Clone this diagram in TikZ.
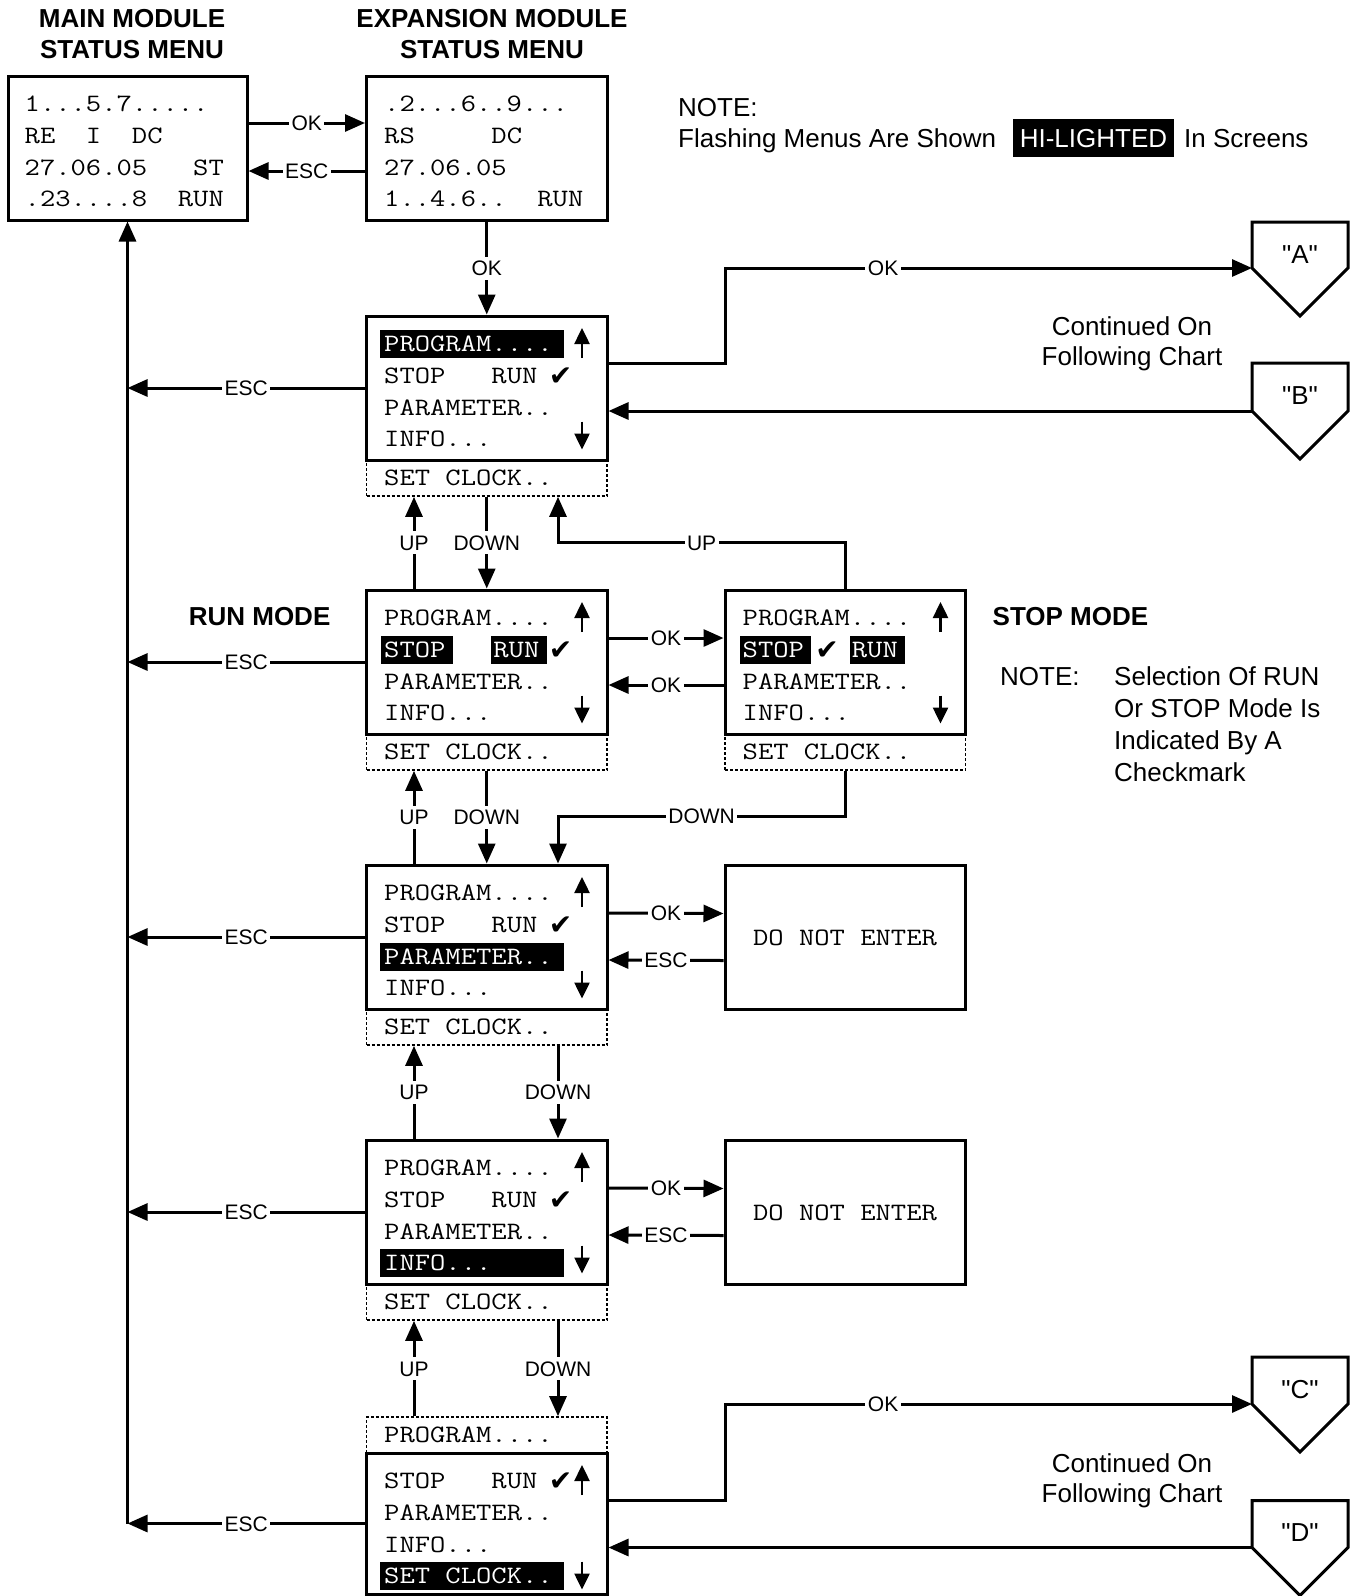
\documentclass[tikz,border=0pt]{standalone}
\usepackage{fontspec}
\setmainfont{Liberation Sans}
\newfontfamily\qfont{Liberation Sans}
\newfontfamily\symfont{DejaVu Sans}
\usepackage{graphicx}
\usetikzlibrary{arrows.meta,calc}
\newcommand\lcd[1]{\scalebox{1.19}[1]{\ttfamily\fontsize{25}{25}\selectfont #1}}
\newcommand\plainrow[4]{\node[lt] (#1) at (#2+17.5,#3) {\lcd{#4}};}
\newcommand\hlrow[4]{\fill (#2+13.5,#3-14) rectangle (#2+197.5,#3+14); \node[ht] (#1) at (#2+17.5,#3) {\lcd{#4}};}
\newcommand\chkmark[3]{\node[chk] (#1) at (#2,#3+1) {✔};}
\newcommand\scrollup[2]{\draw[sarr] (#1,#2+15) -- (#1,#2-15);}
\newcommand\scrolldn[2]{\draw[sarr] (#1,#2-14) -- (#1,#2+14);}
\newcommand\lcdmenu[4]{%
  \node[dashbox] (#1d) at (#2+120.25,#3+162) {};
  \node[solidbox] (#1) at (#2+120.25,#3+72) {};
  \ifnum#4=1 \hlrow{#1a}{#2}{#3+27.5}{PROGRAM....}\else \plainrow{#1a}{#2}{#3+27.5}{PROGRAM....}\fi
  \ifnum#4=2
    \fill (#2+14.5,#3+45.5) rectangle (#2+86,#3+73.5);
    \fill (#2+124.5,#3+45.5) rectangle (#2+180,#3+73.5);
    \node[ht] (#1b) at (#2+17.5,#3+59.5) {\lcd{STOP}};
    \node[ht] (#1c) at (#2+126.7,#3+59.5) {\lcd{RUN}};
    \chkmark{#1k}{#2+194}{#3+59.5}
  \else\ifnum#4=5
    \fill (#2+14.5,#3+45.5) rectangle (#2+86,#3+73.5);
    \fill (#2+124.5,#3+45.5) rectangle (#2+180,#3+73.5);
    \node[ht] (#1b) at (#2+17.5,#3+59.5) {\lcd{STOP}};
    \node[ht] (#1c) at (#2+126.7,#3+59.5) {\lcd{RUN}};
    \chkmark{#1k}{#2+102}{#3+59.5}
  \else
    \plainrow{#1b}{#2}{#3+59.5}{STOP~~~RUN}
    \chkmark{#1k}{#2+194}{#3+59.5}
  \fi\fi
  \ifnum#4=3 \hlrow{#1e}{#2}{#3+91.5}{PARAMETER..}\else \plainrow{#1e}{#2}{#3+91.5}{PARAMETER..}\fi
  \ifnum#4=4 \hlrow{#1f}{#2}{#3+123}{INFO...}\else \plainrow{#1f}{#2}{#3+123}{INFO...}\fi
  \plainrow{#1g}{#2}{#3+162}{SET~CLOCK..}
  \scrollup{#2+215.5}{#3+27}
  \scrolldn{#2+215.5}{#3+119.5}
}
\newcommand\pent[4]{%
  \draw[line width=3pt, line join=miter] (1252,#2) -- (1348,#2) -- (1348,#2+#4) -- (1300,#2+#4+48) -- (1252,#2+#4) -- cycle;
  \node[bt] (#1) at (1300,#2+32) {\qfont "#3"};
  \coordinate (#1w) at (1252,#2+#4);
}
\begin{document}
\begin{tikzpicture}[x=1pt,y=-1pt,
  solidbox/.style={draw, line width=3pt, minimum width=240.5pt, minimum height=144pt, inner sep=0pt},
  dashbox/.style={draw, line width=1.7pt, dash pattern=on 3pt off 2pt, minimum width=240.5pt, minimum height=36pt, inner sep=0pt},
  lt/.style={anchor=west, inner sep=0pt, text height=15.3pt, text depth=0pt},
  ht/.style={lt, text=white},
  lbl/.style={font=\fontsize{21}{21}\selectfont, fill=white, inner xsep=2.5pt, inner ysep=4pt, text height=15pt, text depth=0pt},
  arr/.style={line width=3pt, -{Triangle[length=20pt,width=17pt]}},
  sarr/.style={line width=2.5pt, -{Triangle[length=16pt,width=15pt]}},
  bt/.style={font=\fontsize{26}{26}\selectfont, inner sep=0pt, text height=18.7pt, text depth=0pt},
  btw/.style={bt, anchor=west},
  bb/.style={font=\bfseries\fontsize{26}{26}\selectfont, inner sep=0pt, text height=18.7pt, text depth=0pt},
  chk/.style={font=\symfont\fontsize{28}{28}\selectfont, inner sep=0pt},
]
\useasboundingbox (0,0) rectangle (1355,1596);

% titles
\node[bb] (t1a) at (132,18.3) {MAIN MODULE};
\node[bb] (t1b) at (132,49) {STATUS MENU};
\node[bb] (t2a) at (492,18.3) {EXPANSION MODULE};
\node[bb] (t2b) at (492,49) {STATUS MENU};

% status boxes
\node[solidbox, minimum width=239pt] (mm) at (127.5,148) {};
\node[lt] (mm1) at (24.5,103.5) {\lcd{1...5.7.....}};
\node[lt] (mm2) at (24.5,135.5) {\lcd{RE~~I~~DC}};
\node[lt] (mm3) at (24.5,167.5) {\lcd{27.06.05~~~ST}};
\node[lt] (mm4) at (24.5,199) {\lcd{.23....8~~RUN}};
\node[solidbox] (ex) at (486.75,148) {};
\node[lt] (ex1) at (384,103.5) {\lcd{.2...6..9...}};
\node[lt] (ex2) at (384,135.5) {\lcd{RS~~~~~DC}};
\node[lt] (ex3) at (384,167.5) {\lcd{27.06.05}};
\node[lt] (ex4) at (384,199) {\lcd{1..4.6..~~RUN}};

% note
\node[btw] (nt1) at (678,107) {NOTE:};
\node[btw] (nt2) at (678,138.5) {Flashing Menus Are Shown};
\node[bt, fill=black, text=white, minimum width=161pt, minimum height=38pt] (nt3) at (1093.5,138) {HI-LIGHTED};
\node[btw] (nt4) at (1184,138.5) {In Screens};

% menus
\lcdmenu{m1}{366.5}{316}{1}
\lcdmenu{m2}{366.5}{590}{2}
\lcdmenu{st}{725}{590}{5}
\lcdmenu{m3}{366.5}{865}{3}
\lcdmenu{m4}{366.5}{1140}{4}

% last menu
\node[dashbox] (m5d) at (486.75,1435) {};
\node[solidbox, minimum height=141pt] (m5) at (486.75,1523.5) {};
\plainrow{m5a}{366.5}{1435}{PROGRAM....}
\plainrow{m5b}{366.5}{1480.5}{STOP~~~RUN}
\chkmark{m5k}{560.5}{1480.5}
\plainrow{m5e}{366.5}{1512.5}{PARAMETER..}
\plainrow{m5f}{366.5}{1544.5}{INFO...}
\hlrow{m5g}{366.5}{1576}{SET~CLOCK..}
\scrollup{582}{1480}
\scrolldn{582}{1575.5}

% do not enter boxes
\node[solidbox, minimum width=240pt] (dn1) at (845,937.5) {};
\node[inner sep=0pt] (dn1t) at (dn1) {\lcd{DO~NOT~ENTER}};
\node[solidbox, minimum width=240pt] (dn2) at (845,1212.5) {};
\node[inner sep=0pt] (dn2t) at (dn2) {\lcd{DO~NOT~ENTER}};

% pentagons
\pent{pA}{222}{A}{46}
\pent{pB}{363}{B}{48}
\pent{pC}{1357}{C}{47}
\pent{pD}{1500.5}{D}{47}

% side texts
\node[bt] (co1) at (1132,326) {Continued On};
\node[bt] (co2) at (1132,356) {Following Chart};
\node[bt] (co3) at (1132,1463) {Continued On};
\node[bt] (co4) at (1132,1493) {Following Chart};
\node[bb] (rm) at (259.6,616) {RUN MODE};
\node[bb, anchor=west] (sm) at (992.5,616) {STOP MODE};
\node[btw] (sn0) at (1000,676) {NOTE:};
\node[btw] (sn1) at (1114,676) {Selection Of RUN};
\node[btw] (sn2) at (1114,708.5) {Or STOP Mode Is};
\node[btw] (sn3) at (1114,740) {Indicated By A};
\node[btw] (sn4) at (1114,772) {Checkmark};

% connectors
\coordinate (xu) at (414,0);
\coordinate (xd) at (558,0);
\coordinate (j1) at (725,268);
\coordinate (j2) at (558,542.5);
\coordinate (j3) at (558,816);
\coordinate (j5) at (725,1404);

\draw[arr] ([yshift=25pt]mm.east) -- node[lbl]{OK} ([yshift=25pt]ex.west);
\draw[arr] ([yshift=-23pt]ex.west) -- node[lbl]{ESC} ([yshift=-23pt]mm.east);
\draw[arr] (ex.south) -- node[lbl]{OK} (m1.north);

\draw[arr] (m5.west -| mm.south) -- (mm.south);
\draw[arr] (m1.west) -- node[lbl]{ESC} (m1.west -| mm.south);
\draw[arr] (m2.west) -- node[lbl]{ESC} (m2.west -| mm.south);
\draw[arr] (m3.west) -- node[lbl]{ESC} (m3.west -| mm.south);
\draw[arr] (m4.west) -- node[lbl]{ESC} (m4.west -| mm.south);
\draw[arr] (m5.west) -- node[lbl]{ESC} (m5.west -| mm.south);

\draw[arr] (m2.north -| xu) -- node[lbl]{UP} (m1d.south -| xu);
\draw[arr] (m1d.south) -- node[lbl]{DOWN} (m2.north);
\draw[arr] (m3.north -| xu) -- node[lbl]{UP} (m2d.south -| xu);
\draw[arr] (m2d.south) -- node[lbl]{DOWN} (m3.north);
\draw[arr] (m4.north -| xu) -- node[lbl]{UP} (m3d.south -| xu);
\draw[arr] (m3d.south -| xd) -- node[lbl]{DOWN} (m4.north -| xd);
\draw[arr] (m5d.north -| xu) -- node[lbl]{UP} (m4d.south -| xu);
\draw[arr] (m4d.south -| xd) -- node[lbl]{DOWN} (m5d.north -| xd);

\draw[arr] (st.north) |- node[lbl,pos=0.75]{UP} (j2) -- (m1d.south -| j2);
\draw[arr] (std.south) |- node[lbl,pos=0.75]{DOWN} (j3) -- (m3.north -| j3);

\draw[arr] ([yshift=24pt]m2.east) -- node[lbl]{OK} ([yshift=24pt]st.west);
\draw[arr] ([yshift=-23pt]st.west) -- node[lbl]{OK} ([yshift=-23pt]m2.east);
\draw[arr] ([yshift=24pt]m3.east) -- node[lbl]{OK} ([yshift=24pt]dn1.west);
\draw[arr] ([yshift=-23pt]dn1.west) -- node[lbl]{ESC} ([yshift=-23pt]m3.east);
\draw[arr] ([yshift=24pt]m4.east) -- node[lbl]{OK} ([yshift=24pt]dn2.west);
\draw[arr] ([yshift=-23pt]dn2.west) -- node[lbl]{ESC} ([yshift=-23pt]m4.east);

\draw[arr] ([yshift=25pt]m1.east) -| (j1) -- node[lbl,pos=0.3]{OK} (pAw);
\draw[arr] (pBw) -- (pBw -| m1.east);
\draw[arr] ([yshift=23pt]m5.east) -| (j5) -- node[lbl,pos=0.3]{OK} (pCw);
\draw[arr] (pDw) -- (pDw -| m5.east);
\end{tikzpicture}
\end{document}
